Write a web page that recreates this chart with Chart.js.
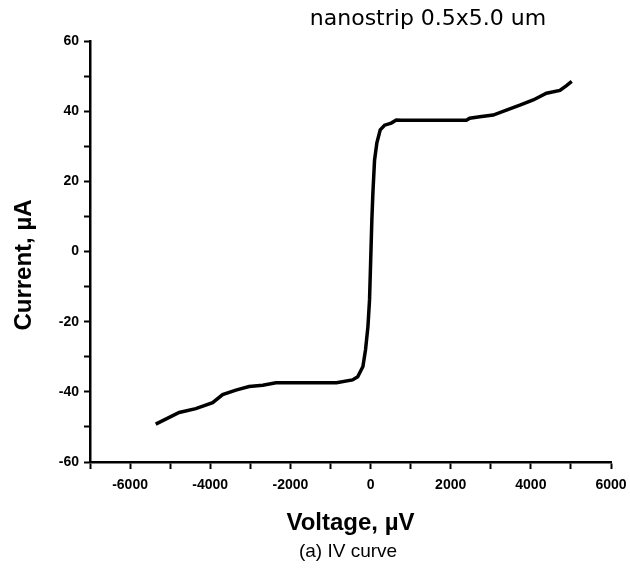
<!DOCTYPE html>
<html lang="en">
<head>
    <meta charset="UTF-8">
    <title>IV curve</title>
    <style>
        body {
            margin: 0;
            padding: 0;
            background-color: #ffffff;
        }
        .chart-box {
            width: 630px;
            height: 576px;
        }
    </style>
</head>
<body>
    <div class="chart-box">
        <canvas id="ivChart"></canvas>
    </div>

    <script src="https://cdn.jsdelivr.net/npm/chart.js"></script>
    <script>
        // Data
        const voltage = [-5360, -4775, -4360, -3940, -3690, -3360, -3030, -2690, -2360, -1500, -850, -450, -320, -190, -125, -65, -25, 0, 33, 60, 100, 158, 242, 350, 517, 642, 767, 1600, 2390, 2475, 2725, 3060, 3390, 3725, 4060, 4390, 4725, 4890, 5020];
        const current = [-49.2, -45.9, -44.8, -43.1, -40.8, -39.5, -38.5, -38.1, -37.4, -37.4, -37.4, -36.6, -35.7, -32.8, -28.0, -21.4, -13.8, -4, 9, 17, 26, 31, 34.7, 36.0, 36.6, 37.5, 37.4, 37.4, 37.4, 38.0, 38.4, 38.9, 40.3, 41.7, 43.2, 45.1, 45.9, 47.3, 48.5];

        const xLabels = [-6000, -4000, -2000, 0, 2000, 4000, 6000];
        const yLabels = [-60, -40, -20, 0, 20, 40, 60];

        const chartTitle = 'nanostrip 0.5x5.0 um';
        const yTitle = 'Current, \u00b5A';
        const caption = '(a) IV curve';

        const points = voltage.map((v, i) => ({ x: v, y: current[i] }));

        // Title, y axis title and caption drawn on the canvas
        const textPlugin = {
            id: 'textPlugin',
            afterDraw(chart) {
                const ctx = chart.ctx;
                ctx.save();
                ctx.fillStyle = '#000';
                ctx.textAlign = 'center';
                ctx.textBaseline = 'middle';
                ctx.font = '22px "DejaVu Sans", sans-serif';
                ctx.fillText(chartTitle, 428, 19);
                ctx.font = '19px "Liberation Sans", Arial, sans-serif';
                ctx.fillText(caption, 348, 552);
                ctx.translate(24, 265);
                ctx.rotate(-Math.PI / 2);
                ctx.font = 'bold 24px "Liberation Sans", Arial, sans-serif';
                ctx.fillText(yTitle, 0, 0);
                ctx.restore();
            }
        };

        const ctx = document.getElementById('ivChart').getContext('2d');
        new Chart(ctx, {
            type: 'scatter',
            data: {
                datasets: [{
                    data: points,
                    showLine: true,
                    borderColor: '#000',
                    backgroundColor: '#000',
                    borderWidth: 3.5,
                    pointRadius: 0,
                    tension: 0
                }]
            },
            options: {
                responsive: true,
                maintainAspectRatio: false,
                animation: false,
                layout: {
                    padding: { left: 0, right: 19, top: 41, bottom: 38 }
                },
                plugins: {
                    legend: { display: false },
                    tooltip: { enabled: false }
                },
                scales: {
                    x: {
                        type: 'linear',
                        min: -7000,
                        max: 6000,
                        afterFit: (scale) => {
                            scale.height = 76;
                            scale.paddingLeft = 0;
                            scale.paddingRight = 0;
                        },
                        afterBuildTicks: (scale) => {
                            scale.ticks = [];
                            for (let v = -7000; v <= 6000; v += 1000) scale.ticks.push({ value: v });
                        },
                        ticks: {
                            autoSkip: false,
                            maxRotation: 0,
                            padding: 8,
                            color: '#000',
                            font: { family: '"Liberation Sans", Arial, sans-serif', size: 14, weight: 'bold' },
                            callback: (v) => xLabels.includes(v) ? String(v) : ''
                        },
                        grid: {
                            drawOnChartArea: false,
                            drawTicks: true,
                            tickLength: 7,
                            tickColor: '#000',
                            tickWidth: 2
                        },
                        border: { display: true, color: '#000', width: 2.5 },
                        title: {
                            display: true,
                            text: 'Voltage, \u00b5V',
                            color: '#000',
                            font: { family: '"Liberation Sans", Arial, sans-serif', size: 24, weight: 'bold' },
                            padding: { top: 0, bottom: 0 }
                        }
                    },
                    y: {
                        type: 'linear',
                        min: -60,
                        max: 60,
                        afterFit: (scale) => {
                            scale.width = 90;
                            scale.paddingTop = 0;
                            scale.paddingBottom = 0;
                        },
                        afterBuildTicks: (scale) => {
                            scale.ticks = [];
                            for (let v = -60; v <= 60; v += 10) scale.ticks.push({ value: v });
                        },
                        ticks: {
                            autoSkip: false,
                            padding: 5,
                            color: '#000',
                            font: { family: '"Liberation Sans", Arial, sans-serif', size: 14, weight: 'bold' },
                            callback: (v) => yLabels.includes(v) ? String(v) : ''
                        },
                        grid: {
                            drawOnChartArea: false,
                            drawTicks: true,
                            tickLength: 6,
                            tickColor: '#000',
                            tickWidth: 2
                        },
                        border: { display: true, color: '#000', width: 2.5 },
                        title: { display: false }
                    }
                }
            },
            plugins: [textPlugin]
        });
    </script>
</body>
</html>
